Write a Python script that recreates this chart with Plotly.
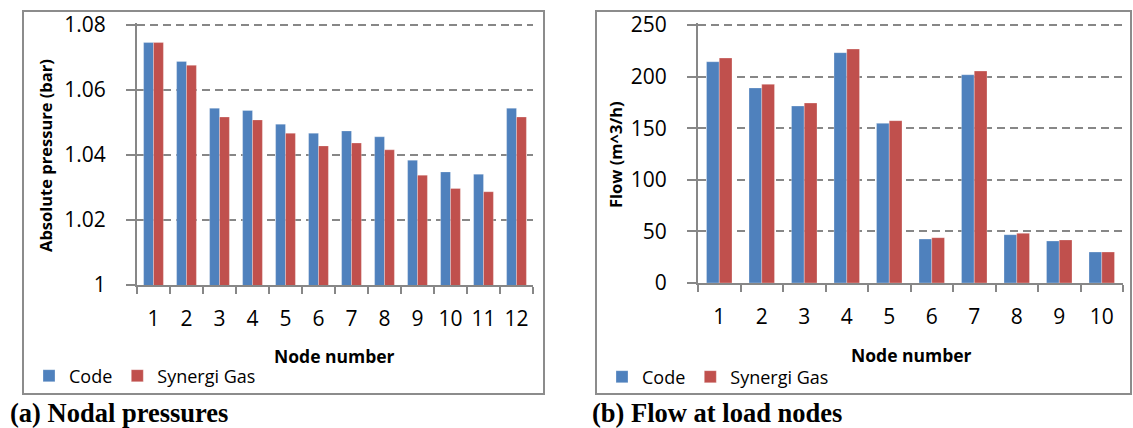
import plotly.graph_objects as go

# ---- data ----
nodes_a = ["1", "2", "3", "4", "5", "6", "7", "8", "9", "10", "11", "12"]
pressure_code = [1.0746, 1.0688, 1.0544, 1.0537, 1.0495, 1.0467, 1.0474, 1.0456, 1.0384, 1.0348, 1.0341, 1.0544]
pressure_synergi = [1.0746, 1.0676, 1.0517, 1.0508, 1.0467, 1.0428, 1.0437, 1.0416, 1.0338, 1.0297, 1.0287, 1.0517]

nodes_b = ["1", "2", "3", "4", "5", "6", "7", "8", "9", "10"]
flow_code = [214.4, 189.0, 171.5, 223.2, 154.7, 42.6, 201.8, 46.8, 40.7, 30.0]
flow_synergi = [218.0, 192.5, 174.4, 226.7, 157.3, 43.9, 205.4, 48.1, 41.7, 30.0]

pressure_ticks = [1.0, 1.02, 1.04, 1.06, 1.08]
pressure_ticktext = ["1", "1.02", "1.04", "1.06", "1.08"]
flow_ticks = [0, 50, 100, 150, 200, 250]
flow_ticktext = ["0", "50", "100", "150", "200", "250"]

series_names = ["Code", "Synergi Gas"]
colors = ["#4F81BD", "#C0504D"]

W, H = 1133, 428
FONT = "Open Sans"
GRAY = "#878787"

def px(x):
    return x / W

def py(y):
    return (H - y) / H

# axis ranges slightly padded above the top tick so its gridline is drawn
p_lo, p_hi, p_top = 1.0, 1.0805, 1.08
f_lo, f_hi, f_top = 0.0, 251.5, 250.0
# pixel rows: left plot bottom 285, top tick at 25; right bottom 283, top tick 25
left_top = 285 - (285 - 25) * (p_hi - p_lo) / (p_top - p_lo)
right_top = 283 - (283 - 25) * (f_hi - f_lo) / (f_top - f_lo)

fig = go.Figure()

for name, vals, col in zip(series_names, [pressure_code, pressure_synergi], colors):
    fig.add_trace(go.Bar(x=nodes_a, y=vals, name=name, marker_color=col,
                         marker_line=dict(color="rgba(255,255,255,0.35)", width=0.8),
                         xaxis="x", yaxis="y", legend="legend"))
for name, vals, col in zip(series_names, [flow_code, flow_synergi], colors):
    fig.add_trace(go.Bar(x=nodes_b, y=vals, name=name, marker_color=col,
                         marker_line=dict(color="rgba(255,255,255,0.35)", width=0.8),
                         xaxis="x2", yaxis="y2", legend="legend2"))

xcommon = dict(type="category", tickson="boundaries", ticks="outside", ticklen=7,
               tickcolor=GRAY, tickwidth=2, showline=True, linecolor=GRAY, linewidth=2,
               showgrid=False, tickfont=dict(family=FONT, size=21, color="#000"),
               ticklabelstandoff=14, tickangle=0, automargin=False)
ycommon = dict(ticks="outside", ticklen=9, tickcolor=GRAY, tickwidth=2,
               showline=True, linecolor=GRAY, linewidth=2, showgrid=True,
               gridcolor=GRAY, gridwidth=2, griddash="8px,5px", zeroline=False,
               tickfont=dict(family=FONT, size=21, color="#000"), ticklabelstandoff=16,
               automargin=False)

legend_common = dict(orientation="h", xanchor="left", yanchor="middle",
                     font=dict(family=FONT, size=18, color="#000"), bgcolor="rgba(0,0,0,0)",
                     traceorder="normal")

fig.update_layout(
    template="none",
    width=W, height=H, margin=dict(l=0, r=0, t=0, b=0),
    paper_bgcolor="white", plot_bgcolor="white",
    barmode="group", bargap=0.4, bargroupgap=0,
    xaxis=dict(domain=[px(137), px(533)], anchor="y", **xcommon),
    yaxis=dict(domain=[py(285), py(left_top)], anchor="x", range=[p_lo, p_hi],
               tickvals=pressure_ticks, ticktext=pressure_ticktext, **ycommon),
    xaxis2=dict(domain=[px(698), px(1123)], anchor="y2", **xcommon),
    yaxis2=dict(domain=[py(283), py(right_top)], anchor="x2", range=[f_lo, f_hi],
                tickvals=flow_ticks, ticktext=flow_ticktext, **ycommon),
    legend=dict(x=px(29), y=py(376), **legend_common),
    legend2=dict(x=px(602), y=py(377), **legend_common),
    shapes=[
        dict(type="rect", xref="paper", yref="paper", x0=px(23), x1=px(544), y0=py(394), y1=py(11),
             line=dict(color="#8c8c8c", width=2), layer="below"),
        dict(type="rect", xref="paper", yref="paper", x0=px(596), x1=px(1131), y0=py(394), y1=py(11),
             line=dict(color="#8c8c8c", width=2), layer="below"),
    ],
    annotations=[
        dict(text="<b>Absolute pressure (bar)</b>", xref="paper", yref="paper", x=px(45), y=py(156),
             textangle=-90, showarrow=False, xanchor="center", yanchor="middle",
             font=dict(family=FONT, size=16.5, color="#000")),
        dict(text="<b>Flow (m^3/h)</b>", xref="paper", yref="paper", x=px(615), y=py(155),
             textangle=-90, showarrow=False, xanchor="center", yanchor="middle",
             font=dict(family=FONT, size=16.5, color="#000")),
        dict(text="<b>Node number</b>", xref="paper", yref="paper", x=px(334), y=py(356),
             showarrow=False, xanchor="center", yanchor="middle",
             font=dict(family=FONT, size=17.5, color="#000")),
        dict(text="<b>Node number</b>", xref="paper", yref="paper", x=px(911), y=py(355),
             showarrow=False, xanchor="center", yanchor="middle",
             font=dict(family=FONT, size=17.5, color="#000")),
        dict(text="<b>(a) Nodal pressures</b>", xref="paper", yref="paper", x=px(8), y=py(413),
             showarrow=False, xanchor="left", yanchor="middle",
             font=dict(family="Liberation Serif", size=26.5, color="#000")),
        dict(text="<b>(b) Flow at load nodes</b>", xref="paper", yref="paper", x=px(590), y=py(413),
             showarrow=False, xanchor="left", yanchor="middle",
             font=dict(family="Liberation Serif", size=26.5, color="#000")),
    ],
)

fig.write_html("out.html")
